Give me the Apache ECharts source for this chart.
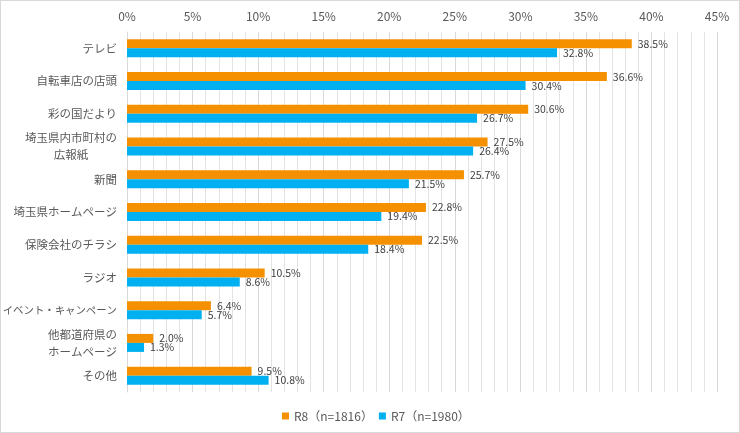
<!DOCTYPE html>
<html>
<head>
<meta charset="utf-8">
<script src="https://cdn.jsdelivr.net/npm/echarts@6/dist/echarts.min.js"></script>
<style>
html,body{margin:0;padding:0;background:#fff;}
#c{width:740px;height:433px;box-sizing:border-box;border:1px solid #d9d9d9;}
</style>
</head>
<body>
<div id="c"></div>
<script>
const categories = ['テレビ','自転車店の店頭','彩の国だより','埼玉県内市町村の\n広報紙','新聞','埼玉県ホームページ','保険会社のチラシ','ラジオ','イベント・キャンペーン','他都道府県の\nホームページ','その他'];
const seriesNames = ['R8（n=1816）','R7（n=1980）'];
const r8 = [38.5,36.6,30.6,27.5,25.7,22.8,22.5,10.5,6.4,2.0,9.5];
const r7 = [32.8,30.4,26.7,26.4,21.5,19.4,18.4,8.6,5.7,1.3,10.8];
const xTicks = [0,5,10,15,20,25,30,35,40,45];

const chart = echarts.init(document.getElementById('c'));
const font = '"Noto Sans CJK JP","Noto Sans",sans-serif';
const lbl = {show:true, position:'right', distance:6, fontSize:10.5, color:'#404040', fontFamily:font,
  formatter: p => p.value.toFixed(1) + '%'};
chart.setOption({
  animation:false,
  textStyle:{fontFamily:font},
  grid:{left:126, right:22, top:31, bottom:40, containLabel:false, outerBoundsMode:'none'},
  legend:{top:404, left:276, itemWidth:7, itemHeight:7, itemGap:6, icon:'rect',
    textStyle:{fontSize:12, color:'#595959', fontFamily:font}},
  xAxis:{type:'value', position:'top', min:xTicks[0], max:xTicks[xTicks.length-1], interval:5,
    axisLine:{show:false}, axisTick:{show:false},
    axisLabel:{margin:10, fontSize:12, color:'#595959', fontFamily:font, formatter: v => v + '%'},
    splitLine:{show:true, lineStyle:{color:'#d9d9d9', width:1}},
    minorTick:{show:false, splitNumber:5},
    minorSplitLine:{show:true, lineStyle:{color:'#e3e3e3', width:1}}},
  yAxis:{type:'category', inverse:true, data:categories,
    axisLine:{show:true, lineStyle:{color:'#d9d9d9'}}, axisTick:{show:false},
    axisLabel:{margin:10, fontSize:11.5, color:'#595959', fontFamily:font, lineHeight:17,
      formatter: v => v.split('\n').map(s => (s.length > 10 ? '{b|' : '{a|') + s + '}').join('\n'),
      rich:{a:{align:'center', fontSize:11.5, color:'#595959', lineHeight:17, fontFamily:font},
            b:{align:'center', fontSize:10.4, color:'#595959', lineHeight:17, fontFamily:font}}}},
  series:[
    {name:seriesNames[0], type:'bar', data:r8, barWidth:9, barGap:'0%', itemStyle:{color:'#F59100'}, label:lbl},
    {name:seriesNames[1], type:'bar', data:r7, barWidth:9, barGap:'0%', itemStyle:{color:'#00B0F0'}, label:lbl}
  ]
});
</script>
</body>
</html>
